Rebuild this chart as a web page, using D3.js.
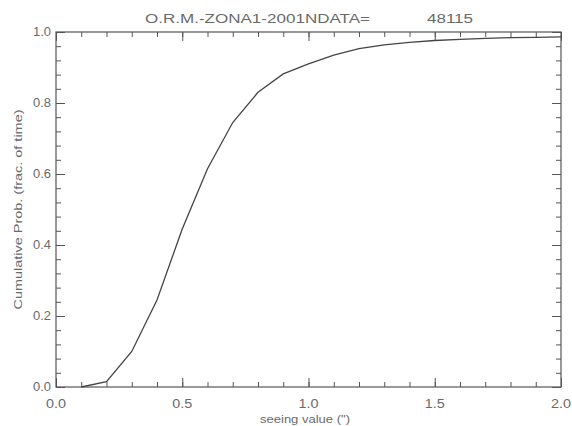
<!DOCTYPE html>
<html>
<head>
<meta charset="utf-8">
<script src="https://cdn.jsdelivr.net/npm/d3@7"></script>
<style>
  html, body { margin: 0; padding: 0; background: #fff; }
  svg { display: block; }
  text { font-family: "Liberation Sans", "DejaVu Sans", sans-serif; fill: #6a6a6a; }
</style>
</head>
<body>
<svg id="chart" width="572" height="426"></svg>
<script>
// Cumulative distribution of seeing values, sampled every 0.1 arcsec
const seeing = [0.1, 0.2, 0.3, 0.4, 0.5, 0.6, 0.7, 0.8, 0.9, 1.0,
                1.1, 1.2, 1.3, 1.4, 1.5, 1.6, 1.7, 1.8, 1.9, 2.0];
const cumProb = [0.0, 0.015, 0.10, 0.245, 0.445, 0.615, 0.745, 0.83, 0.882, 0.91,
                 0.935, 0.953, 0.964, 0.971, 0.976, 0.979, 0.982, 0.984, 0.985, 0.986];

const xTicks = [0.0, 0.5, 1.0, 1.5, 2.0];
const yTicks = [0.0, 0.2, 0.4, 0.6, 0.8, 1.0];

const titleText = "O.R.M.-ZONA1-2001NDATA=";
const nData = "48115";
const xLabel = "seeing value (\")";
const yLabel = "Cumulative Prob. (frac. of time)";

const svg = d3.select("#chart");
const m = { left: 56, right: 561, top: 32, bottom: 387 };

const x = d3.scaleLinear().domain([0, 2]).range([m.left, m.right]);
const y = d3.scaleLinear().domain([0, 1]).range([m.bottom, m.top]);

const axisColor = "#555";
const minorX = d3.range(0, 2.0001, 0.1);
const minorY = d3.range(0, 1.0001, 0.04);

// Inward ticks on all four sides of the frame
function addTicks(axis, transform, minorVals, major) {
  const g = svg.append("g").attr("transform", transform);
  g.call(axis.tickValues(minorVals).tickSize(5).tickFormat(""));
  g.select(".domain").remove();
  g.selectAll("line").attr("stroke", axisColor).attr("stroke-width", 1);
  const g2 = svg.append("g").attr("transform", transform);
  g2.call(axis.tickValues(major).tickSize(9).tickFormat(""));
  g2.select(".domain").remove();
  g2.selectAll("line").attr("stroke", axisColor).attr("stroke-width", 1);
}

addTicks(d3.axisTop(x), `translate(0,${m.bottom})`, minorX, xTicks);
addTicks(d3.axisBottom(x), `translate(0,${m.top})`, minorX, xTicks);
addTicks(d3.axisRight(y), `translate(${m.left},0)`, minorY, yTicks);
addTicks(d3.axisLeft(y), `translate(${m.right},0)`, minorY, yTicks);

// Tick labels
svg.append("g").selectAll("text").data(xTicks).join("text")
  .attr("x", d => x(d)).attr("y", m.bottom + 21)
  .attr("text-anchor", "middle").attr("font-size", 12.5)
  .attr("textLength", 20).attr("lengthAdjust", "spacingAndGlyphs")
  .text(d => d.toFixed(1));
svg.append("g").selectAll("text").data(yTicks).join("text")
  .attr("x", m.left - 5).attr("y", d => y(d) + 4)
  .attr("text-anchor", "end").attr("font-size", 12)
  .attr("textLength", 18).attr("lengthAdjust", "spacingAndGlyphs")
  .text(d => d.toFixed(1));

// Plot box
svg.append("rect")
  .attr("x", m.left).attr("y", m.top)
  .attr("width", m.right - m.left).attr("height", m.bottom - m.top)
  .attr("fill", "none").attr("stroke", axisColor).attr("stroke-width", 1.2);

// Cumulative curve
const line = d3.line().x((d, i) => x(seeing[i])).y(d => y(d));
svg.append("path")
  .attr("d", line(cumProb))
  .attr("fill", "none").attr("stroke", "#444").attr("stroke-width", 1.3);

// Title and axis labels
svg.append("text").attr("x", 145).attr("y", 23)
  .attr("font-size", 12.5).attr("textLength", 225).attr("lengthAdjust", "spacingAndGlyphs")
  .text(titleText);
svg.append("text").attr("x", 427).attr("y", 23)
  .attr("font-size", 12.5).attr("textLength", 46).attr("lengthAdjust", "spacingAndGlyphs")
  .text(nData);
svg.append("text").attr("x", 260).attr("y", 423)
  .attr("font-size", 11.5).attr("textLength", 90).attr("lengthAdjust", "spacingAndGlyphs")
  .text(xLabel);
svg.append("text")
  .attr("transform", `translate(22,${(m.top + m.bottom) / 2 + 100}) rotate(-90)`)
  .attr("font-size", 11.5).attr("textLength", 200).attr("lengthAdjust", "spacingAndGlyphs")
  .text(yLabel);
</script>
</body>
</html>
